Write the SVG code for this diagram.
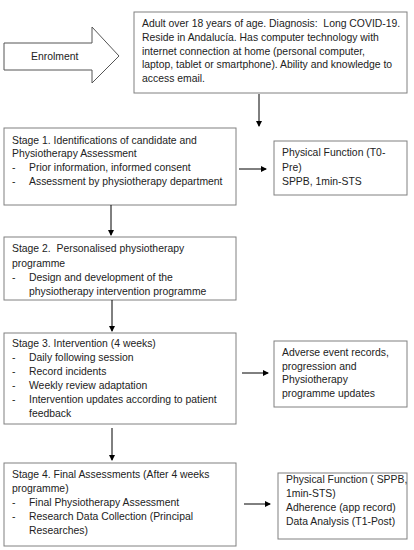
<svg xmlns="http://www.w3.org/2000/svg" width="414" height="550" viewBox="0 0 414 550">
<style>
.box{fill:#fff;stroke:#808080;stroke-width:1}
text{font-family:"Liberation Sans",Arial,sans-serif;font-size:10.4px;fill:#222;white-space:pre}
.c{stroke:#000;stroke-width:1;fill:none;marker-end:url(#ah)}
</style>
<defs>
<marker id="ah" markerWidth="6" markerHeight="6" refX="5" refY="3" orient="auto" markerUnits="userSpaceOnUse">
<path d="M0,0 L6,3 L0,6 z" fill="#000"/>
</marker>
</defs>
<rect width="414" height="550" fill="#fff"/>
<g id="enrolment">
<polygon points="4,43 92,43 92,27 119,56 92,83 92,70 4,70" fill="#fff" stroke="#555" stroke-width="1"/>
<text x="31" y="60">Enrolment</text>
</g>
<g id="criteria">
<rect class="box" x="134" y="12" width="273" height="81"/>
<text x="142" y="27" xml:space="preserve">Adult over 18 years of age. Diagnosis:  Long COVID-19.</text>
<text x="142" y="41">Reside in Andalucía. Has computer technology with</text>
<text x="142" y="55">internet connection at home (personal computer,</text>
<text x="142" y="68">laptop, tablet or smartphone). Ability and knowledge to</text>
<text x="142" y="82">access email.</text>
</g>
<g id="stage1">
<rect class="box" x="4" y="128" width="232" height="77"/>
<text x="12" y="144">Stage 1. Identifications of candidate and</text>
<text x="12" y="157">Physiotherapy Assessment</text>
<text x="12" y="171">-</text><text x="29" y="171">Prior information, informed consent</text>
<text x="12" y="185">-</text><text x="29" y="185">Assessment by physiotherapy department</text>
</g>
<g id="pf0">
<rect class="box" x="274" y="141" width="133" height="54"/>
<text x="282" y="156">Physical Function (T0-</text>
<text x="282" y="171">Pre)</text>
<text x="282" y="185">SPPB, 1min-STS</text>
</g>
<g id="stage2">
<rect class="box" x="4" y="237" width="232" height="63"/>
<text x="12" y="252" xml:space="preserve">Stage 2.  Personalised physiotherapy</text>
<text x="12" y="267">programme</text>
<text x="12" y="281">-</text><text x="29" y="281">Design and development of the</text>
<text x="29" y="295">physiotherapy intervention programme</text>
</g>
<g id="stage3">
<rect class="box" x="4" y="333" width="232" height="91"/>
<text x="12" y="347">Stage 3. Intervention (4 weeks)</text>
<text x="12" y="361">-</text><text x="29" y="361">Daily following session</text>
<text x="12" y="375">-</text><text x="29" y="375">Record incidents</text>
<text x="12" y="389">-</text><text x="29" y="389">Weekly review adaptation</text>
<text x="12" y="403">-</text><text x="29" y="403">Intervention updates according to patient</text>
<text x="29" y="417">feedback</text>
</g>
<g id="adverse">
<rect class="box" x="274" y="341" width="133" height="66"/>
<text x="282" y="356">Adverse event records,</text>
<text x="282" y="370">progression and</text>
<text x="282" y="383">Physiotherapy</text>
<text x="282" y="397">programme updates</text>
</g>
<g id="stage4">
<rect class="box" x="4" y="463" width="232" height="83"/>
<text x="12" y="478">Stage 4. Final Assessments (After 4 weeks</text>
<text x="12" y="492">programme)</text>
<text x="12" y="506">-</text><text x="29" y="506">Final Physiotherapy Assessment</text>
<text x="12" y="520">-</text><text x="29" y="520">Research Data Collection (Principal</text>
<text x="29" y="534">Researches)</text>
</g>
<g id="final">
<rect class="box" x="278" y="473" width="129" height="66"/>
<text x="286" y="483">Physical Function ( SPPB,</text>
<text x="286" y="497">1min-STS)</text>
<text x="286" y="511">Adherence (app record)</text>
<text x="286" y="525">Data Analysis (T1-Post)</text>
</g>
<g id="connectors">
<line class="c" x1="259" y1="94" x2="259" y2="126"/>
<line class="c" x1="239" y1="169" x2="266" y2="169"/>
<line class="c" x1="111" y1="205" x2="111" y2="235"/>
<line class="c" x1="112" y1="300" x2="112" y2="331"/>
<line class="c" x1="242" y1="373" x2="268" y2="373"/>
<line class="c" x1="112" y1="428" x2="112" y2="460"/>
<line class="c" x1="244" y1="504" x2="270" y2="504"/>
</g>
</svg>
